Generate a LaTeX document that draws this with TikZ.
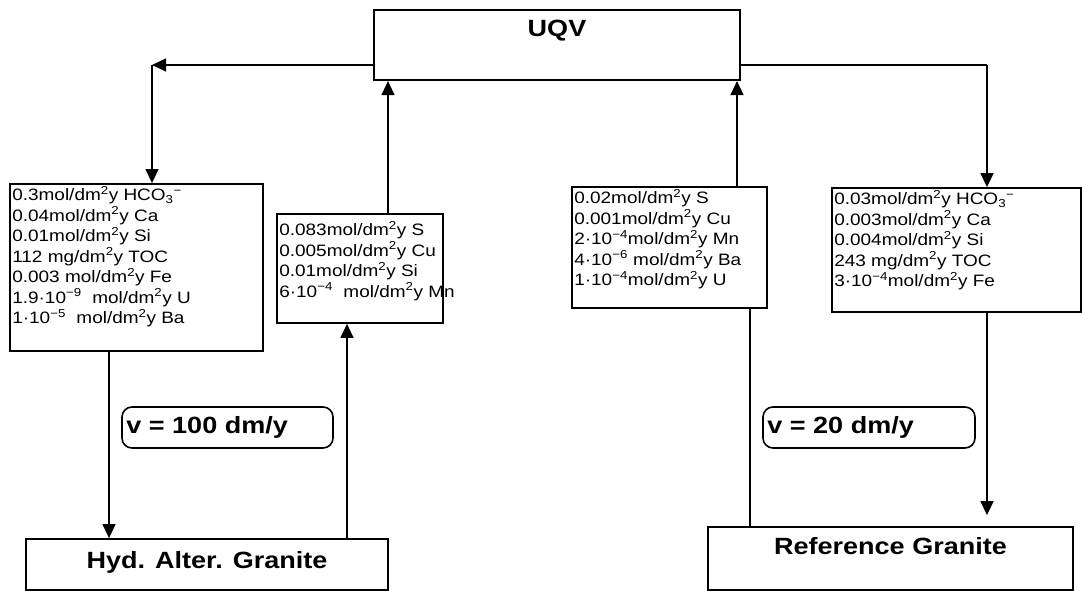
\documentclass[tikz,border=0pt]{standalone}
\usepackage{fontspec}
\setmainfont{Liberation Sans}[FakeStretch=1.15]
\usetikzlibrary{arrows.meta}
\begin{document}
\begin{tikzpicture}[x=1pt,y=-1pt,
  box/.style={draw, line width=1.8pt, inner sep=0pt, rectangle},
  vbox/.style={draw, line width=1.6pt, inner sep=0pt, rectangle, rounded corners=10pt},
  conn/.style={line width=1.4pt},
  arr/.style={conn, -{Triangle[length=14pt,width=13pt]}},
  small/.style={font=\fontsize{16.5}{20.5}\selectfont, align=left, inner sep=3pt},
  big/.style={font=\bfseries\fontsize{23.5}{28}\selectfont, inner sep=0pt}]
\useasboundingbox (0,0) rectangle (1082,591);

\node[box, line width=2.2pt, minimum width=366pt, minimum height=70pt,
  label={[big, anchor=north, yshift=-11pt]north:UQV}] (uqv) at (557,45) {};

\node[box, minimum width=253pt, minimum height=167pt,
  label={[small, anchor=north west]north west:{0.3mol/dm\textsuperscript{2}y HCO\textsubscript{3}\textsuperscript{−}\\
0.04mol/dm\textsuperscript{2}y Ca\\
0.01mol/dm\textsuperscript{2}y Si\\
112 mg/dm\textsuperscript{2}y TOC\\
0.003 mol/dm\textsuperscript{2}y Fe\\
1.9·10\textsuperscript{−9}\ \ mol/dm\textsuperscript{2}y U\\
1·10\textsuperscript{−5}\ \ mol/dm\textsuperscript{2}y Ba}}] (b1) at (136.5,267.5) {};

\node[box, minimum width=166pt, minimum height=109pt,
  label={[small, anchor=north west, yshift=-5pt]north west:{0.083mol/dm\textsuperscript{2}y S\\
0.005mol/dm\textsuperscript{2}y Cu\\
0.01mol/dm\textsuperscript{2}y Si\\
6·10\textsuperscript{−4}\ \ mol/dm\textsuperscript{2}y Mn}}] (b2) at (360,268.5) {};

\node[box, minimum width=195pt, minimum height=121pt,
  label={[small, anchor=north west]north west:{0.02mol/dm\textsuperscript{2}y S\\
0.001mol/dm\textsuperscript{2}y Cu\\
2·10\textsuperscript{−4}mol/dm\textsuperscript{2}y Mn\\
4·10\textsuperscript{−6} mol/dm\textsuperscript{2}y Ba\\
1·10\textsuperscript{−4}mol/dm\textsuperscript{2}y U}}] (b3) at (669.5,247.5) {};

\node[box, minimum width=249pt, minimum height=124pt,
  label={[small, anchor=north west]north west:{0.03mol/dm\textsuperscript{2}y HCO\textsubscript{3}\textsuperscript{−}\\
0.003mol/dm\textsuperscript{2}y Ca\\
0.004mol/dm\textsuperscript{2}y Si\\
243 mg/dm\textsuperscript{2}y TOC\\
3·10\textsuperscript{−4}mol/dm\textsuperscript{2}y Fe}}] (b4) at (956.5,250) {};

\node[vbox, minimum width=211pt, minimum height=41pt,
  label={[big, anchor=west, xshift=5pt]west:v = 100 dm/y}] (v1) at (227.5,427.5) {};
\node[vbox, minimum width=212pt, minimum height=41pt,
  label={[big, anchor=west, xshift=5pt]west:v = 20 dm/y}] (v2) at (869,427.5) {};

\node[box, minimum width=362pt, minimum height=51pt,
  label={[big, anchor=north, yshift=-13pt]north:Hyd. Alter. Granite}] (hyd) at (207,564.5) {};
\node[box, minimum width=365pt, minimum height=63pt,
  label={[big, anchor=north, yshift=-11pt]north:Reference Granite}] (ref) at (890.5,558.5) {};

\coordinate (c1) at (152,65);
\coordinate (c2) at (987,65);
\coordinate (x1) at (109,0);
\coordinate (x2) at (388,0);
\coordinate (x3) at (737,0);
\coordinate (x4) at (347,0);
\coordinate (x6) at (750,0);

\draw[arr] (uqv.west |- c1) -- (c1);
\draw[arr] (c1) -- (c1 |- b1.north);
\draw[conn] (uqv.east |- c2) -- (c2);
\draw[arr] (c2) -- (c2 |- b4.north);
\draw[arr] (b2.north -| x2) -- (uqv.south -| x2);
\draw[arr] (b3.north -| x3) -- (uqv.south -| x3);
\draw[arr] (b1.south -| x1) -- (hyd.north -| x1);
\draw[arr] (hyd.north -| x4) -- (b2.south -| x4);
\draw[arr, shorten >=11pt] (b4.south -| c2) -- (ref.north -| c2);
\draw[conn] (b3.south -| x6) -- (ref.north -| x6);
\end{tikzpicture}
\end{document}
